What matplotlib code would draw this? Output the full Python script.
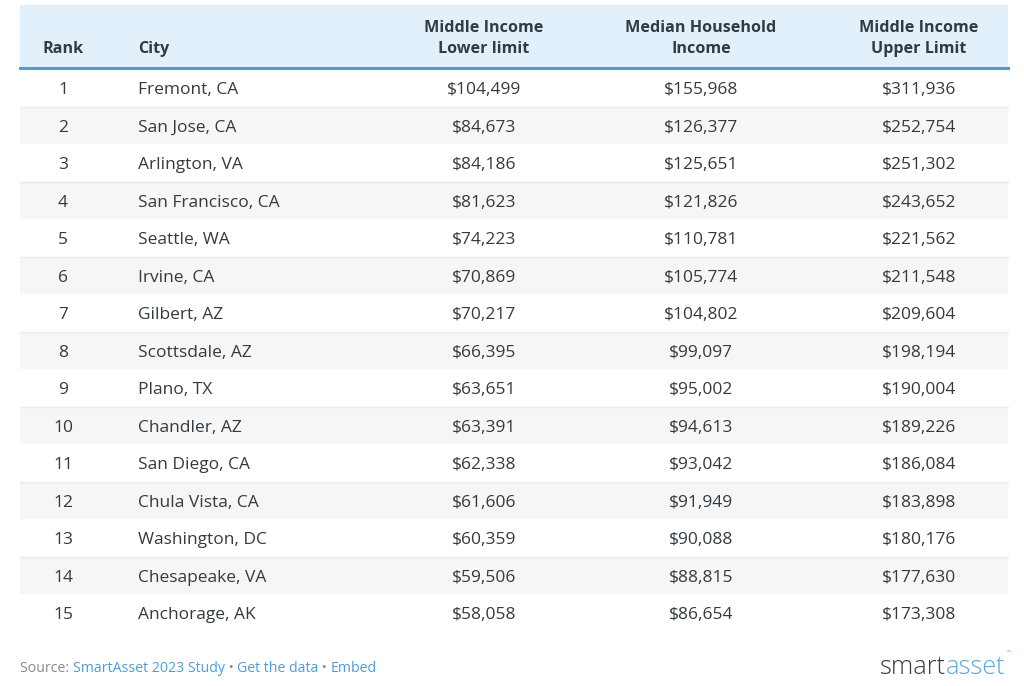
import matplotlib.pyplot as plt
from matplotlib.patches import Rectangle

plt.rcParams['font.family'] = ['Open Sans', 'DejaVu Sans']

ranks = list(range(1, 16))
cities = ['Fremont, CA', 'San Jose, CA', 'Arlington, VA', 'San Francisco, CA',
          'Seattle, WA', 'Irvine, CA', 'Gilbert, AZ', 'Scottsdale, AZ',
          'Plano, TX', 'Chandler, AZ', 'San Diego, CA', 'Chula Vista, CA',
          'Washington, DC', 'Chesapeake, VA', 'Anchorage, AK']
lower_limit = [104499, 84673, 84186, 81623, 74223, 70869, 70217, 66395,
               63651, 63391, 62338, 61606, 60359, 59506, 58058]
median_income = [155968, 126377, 125651, 121826, 110781, 105774, 104802, 99097,
                 95002, 94613, 93042, 91949, 90088, 88815, 86654]
upper_limit = [311936, 252754, 251302, 243652, 221562, 211548, 209604, 198194,
               190004, 189226, 186084, 183898, 180176, 177630, 173308]
headers = ['Rank', 'City', 'Middle Income\nLower limit',
           'Median Household\nIncome', 'Middle Income\nUpper Limit']

W, H = 1024, 686
fig = plt.figure(figsize=(W / 100, H / 100), dpi=100)
ax = fig.add_axes([0, 0, 1, 1])
ax.set_xlim(0, W)
ax.set_ylim(H, 0)
ax.axis('off')

left, right = 20, 1008
head_top, head_bot = 5, 68
row_h = 37.5
text_col = '#333a40'
blue = '#4c9fd6'

# header
ax.add_patch(Rectangle((left, head_top), right - left, head_bot - head_top,
                       color='#e2f0fb', lw=0))
ax.plot([left, right], [head_bot, head_bot], color=blue, lw=2.2)

col_x = [63, 138, 484, 701, 919]
col_ha = ['center', 'left', 'center', 'center', 'center']
for x, ha, h in zip(col_x, col_ha, headers):
    ax.text(x, 53, h, ha=ha, va='baseline', fontsize=11.6, fontweight='bold',
            color=text_col, linespacing=1.42)

# rows
for i in range(len(ranks)):
    top = head_bot + 1 + i * row_h
    if i % 2 == 1:
        ax.add_patch(Rectangle((left, top), right - left, row_h,
                               color='#f6f6f6', lw=0))
        ax.plot([left, right], [top, top], color='#ebebeb', lw=1)
    y = top + row_h / 2 + 2.5
    vals = [str(ranks[i]), cities[i], f'${lower_limit[i]:,}',
            f'${median_income[i]:,}', f'${upper_limit[i]:,}']
    for x, ha, v in zip(col_x, col_ha, vals):
        ax.text(x, y, v, ha=ha, va='center', fontsize=12.5, color=text_col)

# footer
parts = [('Source: ', '#8a8a8a'), ('SmartAsset 2023 Study', blue),
         (' • ', '#8a8a8a'), ('Get the data', blue), (' • ', '#8a8a8a'),
         ('Embed', blue)]
fig.canvas.draw()
r = fig.canvas.get_renderer()
x = left
for s, c in parts:
    t = ax.text(x, 669, s, ha='left', va='center', fontsize=10.2, color=c)
    bb = t.get_window_extent(renderer=r)
    x += bb.width

t1 = ax.text(880, 667, 'smart', ha='left', va='center', fontsize=18.2,
             color='#3c3c3c', fontweight='light')
bb = t1.get_window_extent(renderer=r)
t2 = ax.text(880 + bb.width, 667, 'asset', ha='left', va='center', fontsize=18.2,
             color='#5aa8dc', fontweight='light')
bb2 = t2.get_window_extent(renderer=r)
ax.text(880 + bb.width + bb2.width + 1, 653, '™', ha='left', va='center',
        fontsize=3.5, color='#5aa8dc')

fig.savefig('out.png', dpi=100)
